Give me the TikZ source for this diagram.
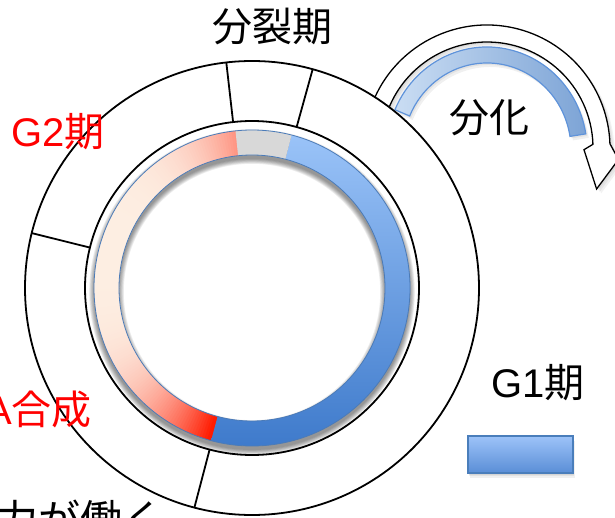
\documentclass[tikz,border=0pt]{standalone}
\usepackage{fontspec}
\setmainfont{Liberation Sans}
\newfontfamily\jp{Noto Sans CJK JP}
\begin{document}
\begin{tikzpicture}[x=1pt,y=1pt]
\definecolor{ringT}{HTML}{9AC3F8}
\definecolor{ringB}{HTML}{3E7ACB}
\definecolor{ringline}{HTML}{4B7BB8}
\definecolor{grayseg}{HTML}{D8D8D8}
\definecolor{rd}{HTML}{FF1A00}
\definecolor{pc}{HTML}{FDEEE2}
\definecolor{arcL}{HTML}{CADDF3}
\definecolor{arcR}{HTML}{7DA4D6}
\definecolor{arcline}{HTML}{5F93DA}
\definecolor{boxT}{HTML}{9DC3F9}
\definecolor{boxB}{HTML}{5A8ED6}
\definecolor{boxline}{HTML}{4A7EBB}
\tikzset{
  blk/.style={draw=black, line width=1.8pt},
  lbl/.style={inner sep=0pt, font=\fontsize{40}{48}\selectfont},
  arrowshape/.style={fill=white, draw=black, line width=1.3pt, line join=miter},
}
\useasboundingbox (0,0) rectangle (615,-518);

% ---- curved arrow (differentiation) ----
\coordinate (A) at (487,-148);
\begin{scope}[shift={(A)}]
  \foreach \k in {1,2,3}
    \fill[black, opacity=0.05, shift={(1.5*\k,-1.5*\k)}]
      (165:123) arc[start angle=165, end angle=2, radius=123]
      -- (-5:132) -- (-20.5:117) -- (-1:97) -- (2:106)
      arc[start angle=2, end angle=165, radius=106] -- cycle;
  \path[arrowshape]
      (165:123) arc[start angle=165, end angle=2, radius=123]
      -- (-5:132) -- (-20.5:117) -- (-1:97) -- (2:106)
      arc[start angle=2, end angle=165, radius=106] -- cycle;
\end{scope}
\coordinate (B) at (487,-150);
\begin{scope}[shift={(B)}]
  \foreach \k in {1,2}
    \fill[black, opacity=0.06, shift={(1.5*\k,-2*\k)}]
      (157:100 and 103) arc[start angle=157, end angle=9, x radius=100, y radius=103]
      -- (9:84 and 87) arc[start angle=9, end angle=157, x radius=84, y radius=87] -- cycle;
  \shade[left color=arcL, right color=arcR, draw=arcline, line width=1.2pt]
      (157:100 and 103) arc[start angle=157, end angle=9, x radius=100, y radius=103]
      -- (9:84 and 87) arc[start angle=9, end angle=157, x radius=84, y radius=87] -- cycle;
\end{scope}
\node[lbl, anchor=base west] (diff) at (449,-133) {\jp 分化};

% ---- outer band ----
\coordinate (C) at (252,-288);
\begin{scope}[shift={(C)}]
  \path[blk, fill=white] (0,0) circle[radius=227];
  \path[blk, fill=white] (0,0) circle[radius=167];
  \foreach \ang in {74.5,96.5,166,255.3}
    \draw[blk] (\ang:167) -- (\ang:227);

  % shadow of the ring
  \foreach \k in {0,...,6}
    \fill[black, opacity=0.07, even odd rule]
      (0,-4) circle[radius=158+0.8*\k] (0,-4) circle[radius=133-0.8*\k];

  % red gradient part (slices)
  \foreach \a in {95.5,96.5,...,254.5}{
    \pgfmathsetmacro{\b}{\a+1.4}
    \pgfmathsetmacro{\m}{\a+0.5}
    \pgfmathsetmacro{\t}{max(0,min(1,(0.966*(252+145*cos(\m))+0.259*(288-145*sin(\m))-172)/144))}
    \pgfmathsetmacro{\s}{100*\t*\t}
    \colorlet{cc}{rd!\s!pc}
    \fill[cc] (\a:133) arc[start angle=\a, end angle=\b, radius=133]
      -- (\b:158) arc[start angle=\b, end angle=\a, radius=158] -- cycle;
  }
  % blue part
  \shade[top color=ringT, bottom color=ringB]
    (75.5:158) arc[start angle=75.5, end angle=-105, radius=158]
    -- (-105:133) arc[start angle=-105, end angle=75.5, radius=133] -- cycle;
  % gray part
  \fill[grayseg]
    (75.5:158) arc[start angle=75.5, end angle=96, radius=158]
    -- (96:133) arc[start angle=96, end angle=75.5, radius=133] -- cycle;
  \draw[ringline, line width=0.8pt] (0,0) circle[radius=158] (0,0) circle[radius=133];
\end{scope}

% ---- labels ----
\node[lbl, anchor=base west] (mitosis) at (212,-42) {\jp 分裂期};
\node[lbl, anchor=base west, text=red] (g2) at (11,-147) {G2{\jp 期}};
\node[lbl, anchor=base east, text=red] (dna) at (92,-424) {DNA{\jp 合成}};
\node[lbl, anchor=base west] (g1) at (491,-397) {G1{\jp 期}};
\node[lbl, anchor=base west, font=\fontsize{42}{48}\selectfont] (force) at (-4,-535) {\jp 力が働く};

% ---- legend box ----
\foreach \k in {1,2,3}
  \fill[black, opacity=0.06] (468+0.5*\k,-436-1.5*\k) rectangle (573+0.5*\k,-473-1.5*\k);
\node[draw=boxline, line width=1.5pt, top color=boxT, bottom color=boxB,
      minimum width=105pt, minimum height=37pt, inner sep=0pt] (g1box) at (520.5,-454.5) {};
\end{tikzpicture}
\end{document}
